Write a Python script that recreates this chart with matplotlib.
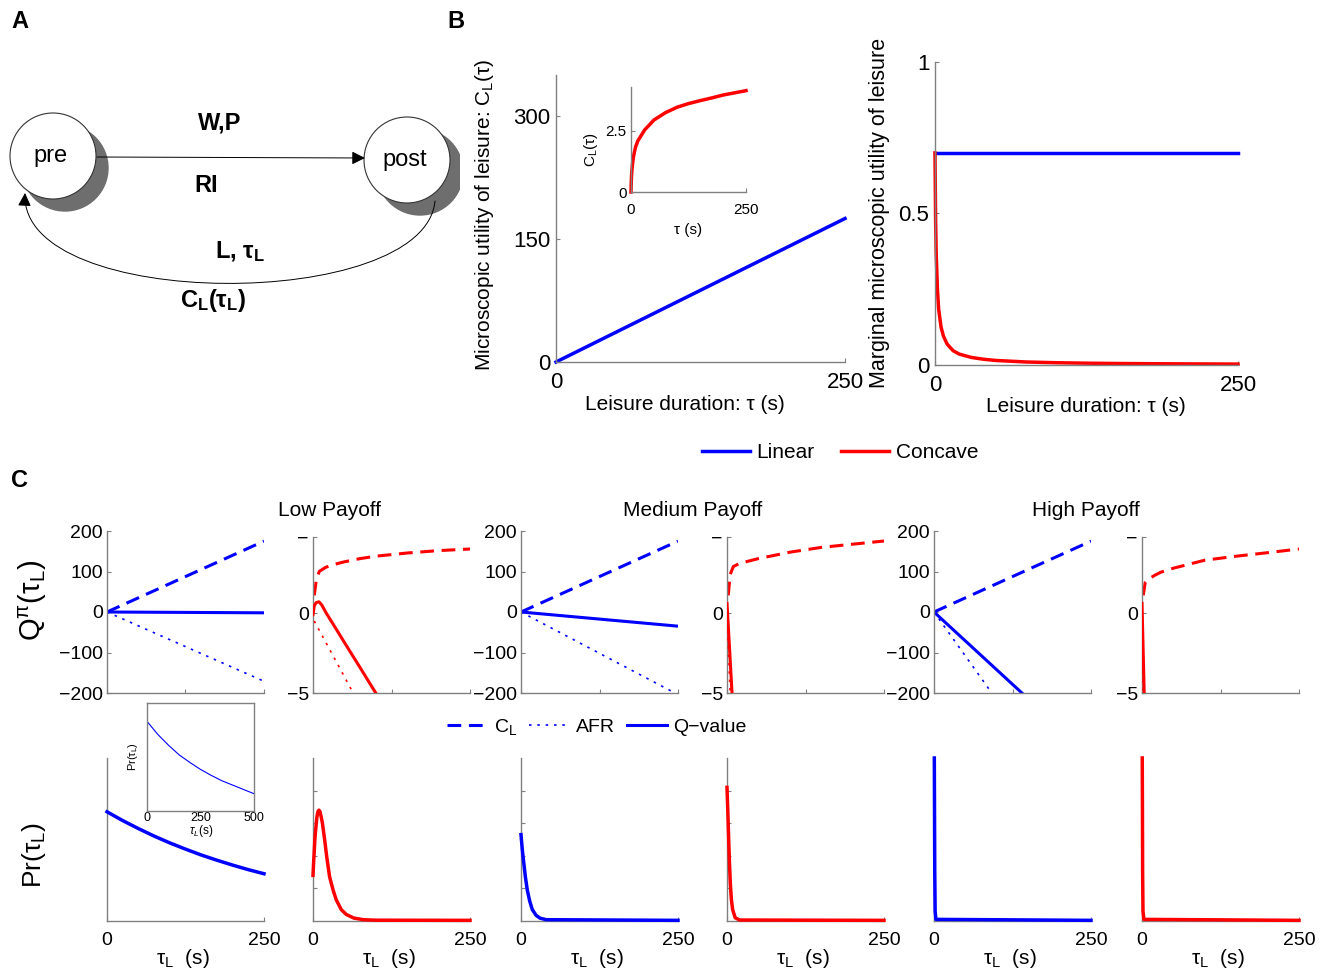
import numpy as np
import matplotlib
matplotlib.use('agg')
import matplotlib.pyplot as plt
from matplotlib.patches import Circle, FancyArrowPatch
from matplotlib.path import Path
from matplotlib.lines import Line2D

plt.rcParams['font.family'] = ['Liberation Sans', 'DejaVu Sans']
plt.rcParams['mathtext.fontset'] = 'custom'
plt.rcParams['mathtext.rm'] = 'Liberation Sans'
plt.rcParams['mathtext.it'] = 'Liberation Sans:italic'
plt.rcParams['mathtext.bf'] = 'Liberation Sans:bold'

# ---- panel B : microscopic utility of leisure
tau_b        = [0, 250]
cl_linear    = [0, 175]
marg_linear  = [0.7, 0.7]

tau_conc     = [0, 0.5, 1, 2, 3, 5, 7, 10, 15, 20, 30, 40, 50, 75, 100, 125, 150, 175, 200, 225, 250]
cl_concave   = [0, 0.35, 0.6, 0.9, 1.1, 1.4, 1.6, 1.85, 2.1, 2.25, 2.55, 2.75, 2.95, 3.25, 3.47,
                3.62, 3.74, 3.85, 3.97, 4.06, 4.15]
marg_concave = [0.7, 0.48, 0.365, 0.25, 0.185, 0.125, 0.095, 0.069, 0.047, 0.036, 0.025, 0.019,
                0.015, 0.010, 0.0075, 0.006, 0.005, 0.0043, 0.0038, 0.0034, 0.003]

# ---- panel C, top row : Q-values (linear utility)
tau_lin      = [0, 250]
cl_lin       = [0, 175]
afr_low      = [0, -171]
q_low        = [0, -2]
tau_afr_med  = [0, 245]
afr_med      = [0, -200]
q_med        = [0, -35]
tau_afr_high = [0, 92]
afr_high     = [0, -200]
tau_q_high   = [0, 140]
q_high       = [0, -200]

# ---- panel C, top row : Q-values (concave utility)
tau_cd       = [2, 5, 10, 20, 30, 50, 75, 100, 150, 200, 250]
cl_c_low     = [1.1, 2.0, 2.6, 2.85, 3.0, 3.2, 3.4, 3.55, 3.75, 3.9, 4.0]
cl_c_med     = [1.1, 2.4, 2.9, 3.1, 3.2, 3.4, 3.6, 3.8, 4.1, 4.3, 4.5]
cl_c_high    = [1.1, 1.9, 2.1, 2.35, 2.55, 2.8, 3.05, 3.3, 3.55, 3.77, 4.0]
tau_qc_low   = [0, 2, 5, 9.5, 14, 21, 30, 40, 50, 60, 70, 80, 90, 100]
q_c_low      = [-0.1, 0.45, 0.65, 0.7, 0.5, 0.0, -0.57, -1.2, -1.84, -2.47, -3.1, -3.73, -4.37, -5.0]
tau_afc_low  = [2, 64]
afr_c_low    = [-0.5, -5]
tau_qc_med   = [0, 2, 4, 6, 8]
q_c_med      = [0.6, -0.8, -2.2, -3.6, -5.0]
tau_afc_med  = [0, 5]
afr_c_med    = [0, -5]
tau_qc_high  = [0, 3.5]
q_c_high     = [0.6, -5]
tau_afc_high = [0, 2]
afr_c_high   = [0, -5]

# ---- panel C, bottom row : leisure duration distributions (relative height)
tau_p1  = [0, 25, 50, 75, 100, 125, 150, 175, 200, 225, 250]
pr_p1   = [0.67, 0.616, 0.567, 0.521, 0.479, 0.441, 0.405, 0.373, 0.343, 0.315, 0.29]
tau_ins = [0, 50, 100, 150, 200, 250, 300, 350, 400, 450, 500]
pr_ins  = [0.83, 0.71, 0.61, 0.52, 0.45, 0.385, 0.33, 0.28, 0.24, 0.2, 0.16]
tau_p2  = [0, 1, 2, 3, 4, 5, 6, 7, 8, 9.5, 11, 13, 15, 18.5, 22, 26.5, 32, 37, 45, 53, 65, 80, 100, 250]
pr_p2   = [0.28, 0.36, 0.43, 0.5, 0.55, 0.59, 0.63, 0.655, 0.672, 0.68, 0.672, 0.64, 0.6, 0.5, 0.39,
           0.27, 0.19, 0.13, 0.07, 0.04, 0.018, 0.008, 0.005, 0.004]
tau_p3  = [0, 2, 4, 7, 10, 14, 18, 24, 30, 40, 250]
pr_p3   = [0.53, 0.44, 0.37, 0.27, 0.19, 0.12, 0.07, 0.035, 0.018, 0.008, 0.004]
tau_p4  = [0, 1.5, 2.7, 4, 5.3, 7, 9, 13, 20, 250]
pr_p4   = [0.82, 0.65, 0.5, 0.35, 0.23, 0.13, 0.07, 0.02, 0.006, 0.004]
tau_p5  = [0.5, 0.8, 1.2, 1.8, 3, 250]
pr_p5   = [1.0, 0.7, 0.3, 0.06, 0.01, 0.004]
tau_p6  = [0.4, 0.7, 1.0, 1.6, 3, 250]
pr_p6   = [1.0, 0.7, 0.3, 0.06, 0.01, 0.004]

W, H = 1325, 971
fig = plt.figure(figsize=(W/100, H/100), dpi=100)
GRAY = '#808080'
BLUE, RED = (0, 0, 1), (1, 0, 0)


def px_axes(l, t, r, b):
    return fig.add_axes([l/W, 1 - b/H, (r - l)/W, (b - t)/H])


def matlab_style(ax, fs=14, pad=3, box=False):
    for s in ['left', 'bottom', 'top', 'right']:
        ax.spines[s].set_color(GRAY)
        ax.spines[s].set_linewidth(1.0)
    if not box:
        ax.spines['top'].set_visible(False)
        ax.spines['right'].set_visible(False)
    ax.tick_params(direction='in', length=3, width=0.8, color=GRAY,
                   labelsize=fs, pad=pad)


def ftext(x, y, s, **kw):
    fig.text(x/W, 1 - y/H, s, ha=kw.pop('ha', 'center'), va=kw.pop('va', 'center'), **kw)


# ================= panel A : state diagram
axA = px_axes(0, 0, 460, 340)
axA.set_xlim(0, 460)
axA.set_ylim(340, 0)
axA.axis('off')
for (cx, cy, sx, sy, name) in [(53, 156, 65, 168, 'pre'), (407, 160, 420, 172, 'post')]:
    axA.add_patch(Circle((sx, sy), 43, color='#6e6e6e', zorder=1))
    axA.add_patch(Circle((cx, cy), 43, facecolor='white', edgecolor='#333333', lw=0.8, zorder=2))
    axA.text(cx - 2, cy, name, fontsize=17, ha='center', va='center', zorder=3)
axA.add_patch(FancyArrowPatch((97, 157), (365, 158), arrowstyle='-|>,head_length=8,head_width=4',
                              color='black', lw=0.7, shrinkA=0, shrinkB=0, zorder=3))
loop = Path([(435, 201), (425, 312), (20, 312), (25, 193)],
            [Path.MOVETO, Path.CURVE4, Path.CURVE4, Path.CURVE4])
axA.add_patch(FancyArrowPatch(path=loop, arrowstyle='-|>,head_length=8,head_width=4',
                              color='black', lw=0.7, zorder=3))
axA.text(220, 123, 'W,P', fontsize=17, fontweight='bold', ha='center', va='center')
axA.text(206, 185, 'RI', fontsize=17, fontweight='bold', ha='center', va='center')
axA.text(240, 252, 'L, τ$_\\mathbf{L}$', fontsize=17, fontweight='bold', ha='center', va='center')
axA.text(213, 300, 'C$_\\mathbf{L}$(τ$_\\mathbf{L}$)', fontsize=17, fontweight='bold',
         ha='center', va='center')

# ================= panel B
axB1 = px_axes(556, 75, 845, 362)
axB1.plot(tau_b, cl_linear, color=BLUE, lw=2.5, clip_on=False)
axB1.set_xlim(0, 250)
axB1.set_ylim(0, 350)
axB1.set_xticks([0, 250])
axB1.set_yticks([0, 150, 300])
matlab_style(axB1, fs=16, pad=4)
axB1.tick_params(axis='x', pad=7)

axBi = px_axes(631, 87, 746, 192)
axBi.plot(tau_conc, cl_concave, color=RED, lw=2.5, clip_on=False)
axBi.set_xlim(0, 250)
axBi.set_ylim(0, 4.3)
axBi.set_xticks([0, 250])
axBi.set_yticks([0, 2.5])
axBi.set_yticklabels(['0', '2.5'])
matlab_style(axBi, fs=11, pad=3)
axBi.tick_params(axis='x', pad=8)
ftext(591, 150, 'C$_\\mathregular{L}$(τ)', fontsize=11, rotation=90)
ftext(688, 230, 'τ (s)', fontsize=11)

axB2 = px_axes(935, 62, 1238, 365)
axB2.plot(tau_b, marg_linear, color=BLUE, lw=2.5, clip_on=False)
axB2.plot(tau_conc, marg_concave, color=RED, lw=2.5, clip_on=False)
axB2.set_xlim(0, 250)
axB2.set_ylim(0, 1)
axB2.set_xticks([0, 250])
axB2.set_yticks([0, 0.5, 1])
axB2.set_yticklabels(['0', '0.5', '1'])
matlab_style(axB2, fs=16, pad=4)
axB2.tick_params(axis='x', pad=7)

ftext(484, 215, 'Microscopic utility of leisure: C$_\\mathregular{L}$(τ)', fontsize=15, rotation=90)
ftext(880, 213, 'Marginal microscopic utility of leisure', fontsize=15.5, rotation=90)
ftext(685, 405, 'Leisure duration: τ (s)', fontsize=15)
ftext(1086, 407, 'Leisure duration: τ (s)', fontsize=15)

hB = [Line2D([], [], color=BLUE, lw=2.5), Line2D([], [], color=RED, lw=2.5)]
fig.legend(hB, ['Linear', 'Concave'], loc='center', bbox_to_anchor=(840/W, 1 - 453/H), ncol=2,
           frameon=False, fontsize=15, handlelength=2.3, columnspacing=1.3, handletextpad=0.3)

# ================= panel C
lefts = [107, 313, 521, 727, 934, 1142]
wid = 157
dash = (0, (4.5, 2.5))
dots = (0, (1.5, 3.5))

lin_sets = [(tau_lin, afr_low, tau_lin, q_low),
            (tau_afr_med, afr_med, tau_lin, q_med),
            (tau_afr_high, afr_high, tau_q_high, q_high)]
conc_sets = [(cl_c_low, tau_afc_low, afr_c_low, tau_qc_low, q_c_low),
             (cl_c_med, tau_afc_med, afr_c_med, tau_qc_med, q_c_med),
             (cl_c_high, tau_afc_high, afr_c_high, tau_qc_high, q_c_high)]
pr_sets = [(tau_p1, pr_p1, BLUE), (tau_p2, pr_p2, RED), (tau_p3, pr_p3, BLUE),
           (tau_p4, pr_p4, RED), (tau_p5, pr_p5, BLUE), (tau_p6, pr_p6, RED)]

for k in range(3):
    # linear utility
    ax = px_axes(lefts[2*k], 531, lefts[2*k] + wid, 693)
    ta, afr, tq, q = lin_sets[k]
    ax.plot(tau_lin, cl_lin, color=BLUE, lw=2.2, ls=dash)
    ax.plot(ta, afr, color=BLUE, lw=1.2, ls=dots)
    ax.plot(tq, q, color=BLUE, lw=2.2)
    ax.set_xlim(0, 250)
    ax.set_ylim(-200, 200)
    ax.set_yticks([-200, -100, 0, 100, 200])
    ax.set_yticklabels(['−200', '−100', '0', '100', '200'])
    ax.set_xticks([0, 125, 250])
    ax.set_xticklabels([])
    matlab_style(ax, fs=14, pad=3)

    # concave utility
    ax = px_axes(lefts[2*k + 1], 537, lefts[2*k + 1] + wid, 693)
    cl, ta, afr, tq, q = conc_sets[k]
    ax.plot(tau_cd, cl, color=RED, lw=2.2, ls=dash)
    ax.plot(ta, afr, color=RED, lw=1.2, ls=dots, zorder=3)
    ax.plot(tq, q, color=RED, lw=2.2, zorder=3)
    ax.set_xlim(0, 250)
    ax.set_ylim(-5, 4.75)
    ax.set_yticks([-5, 0, 4.75])
    ax.set_yticklabels(['−5', '0', '−'])
    ax.set_xticks([0, 125, 250])
    ax.set_xticklabels([])
    matlab_style(ax, fs=14, pad=3)

for k in range(6):
    ax = px_axes(lefts[k], 758, lefts[k] + wid, 921)
    t, p, c = pr_sets[k]
    ax.plot(t, p, color=c, lw=2.5, zorder=3, clip_on=False)
    ax.set_xlim(0, 250)
    ax.set_ylim(0, 1)
    ax.set_xticks([0, 250])
    if k in (1, 2, 3):
        ax.set_yticks([0.2, 0.4, 0.6, 0.8])
    else:
        ax.set_yticks([])
    ax.set_yticklabels([])
    matlab_style(ax, fs=14, pad=8)
    ftext(lefts[k] + wid/2 - 3, 958, 'τ$_\\mathregular{L}$  (s)', fontsize=15)

# inset in the first distribution
axi = px_axes(147, 703, 254, 811)
axi.plot(tau_ins, pr_ins, color=BLUE, lw=0.8)
axi.set_xlim(0, 500)
axi.set_ylim(0, 1)
axi.set_xticks([0, 250, 500])
axi.set_yticks([])
matlab_style(axi, fs=9, pad=1, box=True)
axi.tick_params(length=0)
ftext(201, 831, '$\\tau_L$(s)', fontsize=8.5)
ftext(133, 757, 'Pr(τ$_\\mathregular{L}$)', fontsize=8, rotation=90)

ftext(330, 510, 'Low Payoff', fontsize=15)
ftext(693, 510, 'Medium Payoff', fontsize=15)
ftext(1086, 510, 'High Payoff', fontsize=15)
ftext(33, 600, 'Q$^\\mathregular{π}$(τ$_\\mathregular{L}$)', fontsize=21, rotation=90)
ftext(34, 855, 'Pr(τ$_\\mathregular{L}$)', fontsize=19, rotation=90)

hC = [Line2D([], [], color=BLUE, lw=2.2, ls=dash),
      Line2D([], [], color=BLUE, lw=1.2, ls=dots),
      Line2D([], [], color=BLUE, lw=2.2)]
fig.legend(hC, ['C$_\\mathregular{L}$', 'AFR', 'Q−value'], loc='center',
           bbox_to_anchor=(597/W, 1 - 727/H), ncol=3, frameon=False, fontsize=14,
           handlelength=2.1, columnspacing=0.6, handletextpad=0.3)

# panel letters
ftext(20, 21, 'A', fontsize=17, fontweight='bold')
ftext(456, 21, 'B', fontsize=17, fontweight='bold')
ftext(20, 480, 'C', fontsize=17, fontweight='bold')

fig.savefig('out.png', dpi=100)
